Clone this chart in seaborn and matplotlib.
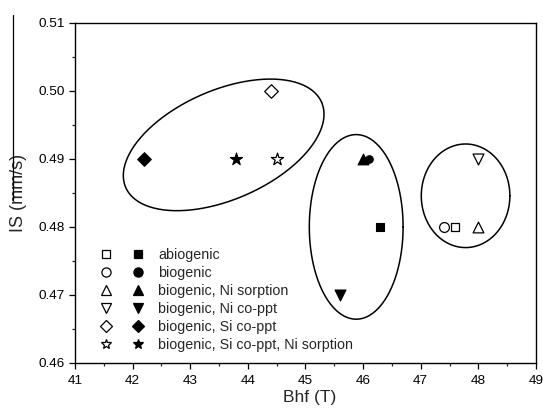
import numpy as np
import pandas as pd
import matplotlib
matplotlib.use("Agg")
import matplotlib.pyplot as plt
import seaborn as sns
from matplotlib.legend_handler import HandlerTuple
from matplotlib.lines import Line2D
from matplotlib.ticker import MultipleLocator, FormatStrFormatter

# sample groups; each has an open-symbol and a filled-symbol measurement
labels = ['abiogenic', 'biogenic', 'biogenic, Ni sorption', 'biogenic, Ni co-ppt',
          'biogenic, Si co-ppt', 'biogenic, Si co-ppt, Ni sorption']
markers = ['s', 'o', '^', 'v', 'D', '*']
open_bhf = [47.6, 47.4, 48.0, 48.0, 44.4, 44.5]
open_is = [0.48, 0.48, 0.48, 0.49, 0.50, 0.49]
filled_bhf = [46.3, 46.1, 46.0, 45.6, 42.2, 43.8]
filled_is = [0.48, 0.49, 0.49, 0.47, 0.49, 0.49]

sns.set_style('ticks')
plt.rcParams['font.family'] = ['Liberation Sans', 'DejaVu Sans']

fig = plt.figure(figsize=(5.43, 4.08), dpi=100)
ax = fig.add_axes([0.1381, 0.1103, 0.849, 0.834])

df_open = pd.DataFrame({'Bhf': open_bhf, 'IS': open_is, 'group': labels})
df_fill = pd.DataFrame({'Bhf': filled_bhf, 'IS': filled_is, 'group': labels})

sizes = {'s': 38, 'o': 50, '^': 60, 'v': 62, 'D': 48, '*': 85}
for i, m in enumerate(markers):
    sns.scatterplot(data=df_fill.iloc[[i]], x='Bhf', y='IS', marker=m, s=sizes[m],
                    color='black', edgecolor='white' if m == 'o' else 'black',
                    linewidth=0.8, ax=ax, zorder=3)
    sns.scatterplot(data=df_open.iloc[[i]], x='Bhf', y='IS', marker=m, s=sizes[m],
                    color='white', edgecolor='black', linewidth=0.9, ax=ax, zorder=3)

ax.set_xlim(41, 49)
ax.set_ylim(0.46, 0.51)
ax.xaxis.set_major_locator(MultipleLocator(1))
ax.xaxis.set_minor_locator(MultipleLocator(0.5))
ax.yaxis.set_major_locator(MultipleLocator(0.01))
ax.yaxis.set_minor_locator(MultipleLocator(0.005))
ax.yaxis.set_major_formatter(FormatStrFormatter('%.2f'))
ax.tick_params(which='major', direction='out', length=4.5, width=0.9, labelsize=9.7, pad=3,
               top=False, right=False, color='black', labelcolor='black')
ax.tick_params(which='minor', direction='out', length=2.3, width=0.9, top=False, right=False)
ax.tick_params(axis='x', which='major', pad=4.5)
for sp in ax.spines.values():
    sp.set_visible(True)
    sp.set_linewidth(1.0)
    sp.set_color('black')

ax.set_xlabel('Bhf (T)', fontsize=12.5)
ax.set_ylabel('IS (mm/s)', fontsize=13)
ax.xaxis.set_label_coords(0.508, -0.079)
ax.yaxis.set_label_coords(-0.104, 0.5)

# grouping ellipses: centre (data), semi-axes (px), tilt (deg)
fig.canvas.draw()
bb = ax.get_window_extent()
sx = bb.width / 8.0
sy = bb.height / 0.05
ellipses = [((43.58, 0.49205), 106.8, 54.7, 23.5),
            ((45.88, 0.4800), 46.9, 92.3, 0),
            ((47.778, 0.48457), 44.3, 51.8, 0)]
t = np.linspace(0, 2 * np.pi, 300)
for (cx, cy), a, b, ang in ellipses:
    th = np.deg2rad(ang)
    px = a * np.cos(t) * np.cos(th) - b * np.sin(t) * np.sin(th)
    py = a * np.cos(t) * np.sin(th) + b * np.sin(t) * np.cos(th)
    ax.plot(cx + px / sx, cy + py / sy, color='black', lw=1.1, zorder=2)

# legend: open + filled marker pairs
leg_ms = {'s': 5.4, 'o': 6.6, '^': 7.8, 'v': 7.8, 'D': 6.4, '*': 7.0}
handles = []
for m in markers:
    h_open = Line2D([], [], marker=m, ls='none', ms=leg_ms[m], mfc='white', mec='black', mew=0.9)
    h_fill = Line2D([], [], marker=m, ls='none', ms=leg_ms[m], mfc='black', mec='black', mew=0.9)
    handles.append((h_open, h_fill))
ax.legend(handles, labels, handler_map={tuple: HandlerTuple(ndivide=None, pad=0)},
          loc='upper left', bbox_to_anchor=(0.012, 0.366), frameon=False, fontsize=10.3,
          handlelength=4.45, handletextpad=0.28, labelspacing=0.27, borderpad=0.2)

# stray overline above the y label, as in the original scan
fig.add_artist(Line2D([13 / 543, 13 / 543], [1 - 15 / 408, 1 - 200 / 408],
                      color='black', lw=0.9))

fig.savefig('out.png', dpi=100)
